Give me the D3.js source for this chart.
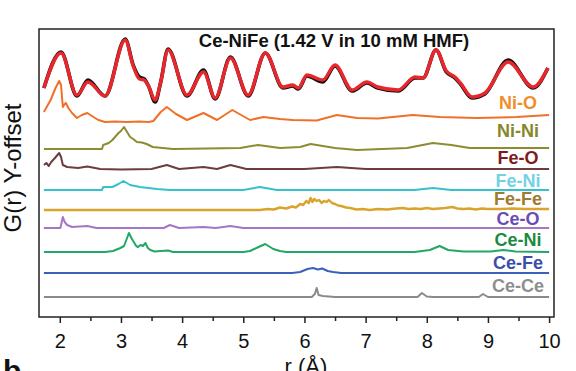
<!DOCTYPE html>
<html>
<head>
<meta charset="utf-8">
<script src="https://cdn.jsdelivr.net/npm/d3@7"></script>
<style>
  body { margin: 0; background: #fff; }
  svg { display: block; font-family: "Liberation Sans", Arial, sans-serif; }
</style>
</head>
<body>
<svg id="chart" width="576" height="371"></svg>
<script>
// r (Å) vs G(r), each curve as [r, G] pairs relative to its own offset
const xTicks = [2, 3, 4, 5, 6, 7, 8, 9, 10]
const xMinorTicks = [2.5, 3.5, 4.5, 5.5, 6.5, 7.5, 8.5, 9.5]

const totalExp = [
  [1.74, 0.2], [2.02, 3.8], [2.28, -0.6], [2.46, 1.0], [2.74, -0.6], [3.07, 5.1], [3.2, 2.5], [3.3, 1.3],
  [3.38, 1.1], [3.45, 0.4], [3.56, -1.2], [3.65, 0.8], [3.77, 4.1], [4.08, -0.6], [4.35, 2.0], [4.54, -0.9],
  [4.79, 3.3], [5.08, -0.6], [5.36, 3.7], [5.65, 0.2], [5.81, 0.4], [5.9, 0.1], [6.04, 1.4], [6.3, 0.8],
  [6.5, 2.4], [6.78, -0.1], [7.02, 0.7], [7.2, 0.2], [7.53, -0.1], [7.81, 1.2], [7.94, 1.2], [8.15, 4.0],
  [8.32, 1.8], [8.46, 1.2], [8.55, 0.6], [8.74, -0.8], [8.95, -0.4], [9.33, 3.0], [9.74, 0.2], [9.98, 2.2]
]
const totalFit = [
  [1.74, 0.2], [2.02, 3.7], [2.28, -0.5], [2.46, 0.8], [2.74, -0.6], [3.07, 5.0], [3.2, 2.4], [3.3, 1.1],
  [3.38, 1.0], [3.45, 0.4], [3.56, -1.0], [3.65, 0.8], [3.77, 4.0], [4.08, -0.5], [4.35, 1.8], [4.54, -0.8],
  [4.79, 3.2], [5.08, -0.5], [5.36, 3.7], [5.65, 0.3], [5.81, 0.5], [5.9, 0.2], [6.04, 1.5], [6.3, 1.0],
  [6.5, 2.5], [6.78, 0.0], [7.02, 0.8], [7.2, 0.3], [7.53, 0.0], [7.81, 1.3], [7.94, 1.2], [8.15, 4.0],
  [8.32, 1.9], [8.46, 1.3], [8.55, 0.7], [8.74, -0.7], [8.95, -0.3], [9.33, 2.8], [9.74, 0.3], [9.98, 2.2]
]

const niO = [
  [1.74, 0.8], [1.85, 2.0], [1.93, 3.2], [1.99, 3.9], [2.02, 3.5], [2.05, 1.3], [2.08, 1.6], [2.1, 1.7],
  [2.14, 1.2], [2.2, 0.7], [2.28, 0.2], [2.36, 0.5], [2.45, 0.7], [2.55, 0.3], [2.63, 0.0], [2.74, -0.2],
  [2.9, -0.15], [3.1, -0.2], [3.3, -0.15], [3.45, -0.2], [3.53, -0.1], [3.65, 0.8], [3.75, 1.3], [3.9, 0.6],
  [4.08, 0.0], [4.35, 0.7], [4.57, 0.0], [4.82, 1.0], [5.11, 0.0], [5.33, 0.3], [5.6, 0.1], [5.81, 0.0],
  [6.2, -0.05], [6.53, 0.5], [6.86, 0.2], [7.2, 0.15], [7.77, 0.5], [8.21, 0.3], [8.82, 0.2], [9.47, 0.3],
  [10.0, 0.5]
]
const niNi = [
  [1.74, 0], [2.69, 0], [2.71, 0.4], [2.8, 0.6], [2.86, 0.9], [2.96, 1.6], [3.0, 1.8], [3.05, 2.2],
  [3.1, 1.7], [3.15, 1.2], [3.2, 1.0], [3.26, 0.7], [3.34, 0.65], [3.42, 0.5], [3.52, 0.2], [3.85, 0],
  [4.95, 0.1], [5.24, 0.4], [5.6, 0.1], [5.93, 0.2], [6.1, 0.5], [6.5, 0.1], [6.86, -0.1], [7.68, 0.1],
  [8.1, 0.6], [8.4, 0.4], [8.7, 0.1], [10.0, 0.1]
]
const feO = [
  [1.74, 0.4], [1.78, 0.6], [1.82, 0.3], [1.86, 0.7], [1.92, 1.1], [1.99, 1.6], [2.02, 1.2], [2.05, 0.4],
  [2.12, 0.2], [2.3, 0.1], [2.45, 0.25], [2.66, 0], [3.0, -0.05], [3.5, 0], [3.75, 0.4], [3.95, 0],
  [4.35, 0.2], [4.57, 0], [4.79, 0.4], [5.05, 0], [6.0, 0], [6.53, 0.2], [7.0, 0], [10.0, 0]
]
const feNi = [
  [1.74, 0], [2.69, 0], [2.71, 0.3], [2.86, 0.3], [2.96, 0.6], [3.04, 0.9], [3.15, 0.5], [3.31, 0.3],
  [3.59, 0.1], [3.8, 0], [5.0, 0], [5.27, 0.3], [5.55, 0], [7.8, 0], [8.1, 0.2], [8.4, 0], [10.0, 0]
]
const feFe = [
  [1.74, 0], [5.27, 0], [5.4, 0.1], [5.5, 0.05], [5.6, 0.25], [5.7, 0.15], [5.8, 0.35], [5.86, 0.25],
  [5.93, 0.6], [5.98, 0.5], [6.03, 0.9], [6.07, 0.7], [6.1, 1.2], [6.13, 0.8], [6.16, 1.1], [6.2, 0.9],
  [6.24, 1.0], [6.28, 0.7], [6.32, 0.9], [6.36, 0.8], [6.4, 1.0], [6.45, 0.7], [6.5, 0.6], [6.55, 0.45],
  [6.6, 0.4], [6.68, 0.25], [6.75, 0.2], [6.85, 0.05], [6.95, 0.1], [7.07, 0.0], [7.2, 0.1], [7.35, 0.05],
  [7.5, 0.15], [7.61, 0.2], [7.7, 0.1], [7.8, 0.15], [7.9, 0.1], [8.0, 0.2], [8.1, 0.1], [8.2, 0.15],
  [8.3, 0.2], [8.42, 0.3], [8.5, 0.15], [8.6, 0.1], [8.7, 0.15], [8.8, 0.05], [8.9, 0.15], [9.0, 0.1],
  [9.2, 0.1], [9.4, 0.15], [9.6, 0.1], [9.8, 0.1], [10.0, 0.1]
]
const ceO = [
  [1.74, 0], [2.01, 0], [2.05, 1.1], [2.08, 0.6], [2.12, 0.3], [2.2, 0.1], [2.45, 0.2], [2.6, 0],
  [3.7, 0], [3.8, 0.3], [3.95, 0], [4.35, 0.1], [4.55, 0], [4.79, 0.2], [5.0, 0], [10.0, 0]
]
const ceNi = [
  [1.74, 0], [2.74, 0], [2.87, 0.1], [2.95, 0.3], [2.99, 0.4], [3.05, 0.6], [3.1, 1.4], [3.13, 1.9],
  [3.17, 1.4], [3.21, 1.0], [3.25, 0.6], [3.28, 0.5], [3.32, 0.7], [3.36, 0.6], [3.4, 0.9], [3.44, 0.4],
  [3.48, 0.2], [3.55, 0.05], [3.65, 0.1], [3.77, 0.15], [3.85, 0], [5.0, 0], [5.11, 0.1], [5.25, 0.5],
  [5.36, 0.8], [5.49, 0.3], [5.6, 0.1], [5.7, 0], [7.8, 0], [8.05, 0.2], [8.21, 0.6], [8.35, 0.2],
  [8.6, 0.05], [9.05, 0.05], [9.25, 0.2], [9.45, 0.05], [10.0, 0]
]
const ceFe = [
  [1.74, 0], [5.8, 0], [5.93, 0.1], [6.05, 0.4], [6.14, 0.5], [6.22, 0.35], [6.29, 0.45], [6.38, 0.2],
  [6.47, 0.1], [6.6, 0], [10.0, 0]
]
const ceCe = [
  [1.74, 0], [6.12, 0], [6.17, 0.3], [6.2, 0.9], [6.23, 0.2], [6.3, 0.1], [6.5, 0], [7.85, 0],
  [7.92, 0.4], [8.0, 0.05], [8.1, 0], [8.85, 0], [8.92, 0.3], [9.0, 0], [10.0, 0]
]

const totalOffset = 22.7
const partialNames = ['Ni-O', 'Ni-Ni', 'Fe-O', 'Fe-Ni', 'Fe-Fe', 'Ce-O', 'Ce-Ni', 'Ce-Fe', 'Ce-Ce']
const partialData = [niO, niNi, feO, feNi, feFe, ceO, ceNi, ceFe, ceCe]
const partialOffsets = [19.7, 16.8, 14.8, 12.7, 10.7, 8.9, 6.5, 4.4, 2.0]

// styles
const lineColors = ['#f07028', '#8c8c30', '#6e3c3e', '#34c2cc', '#d8a42c', '#a676c4', '#22a864', '#3a62b8', '#8a8a8a']
const labelColors = ['#f28e2a', '#86862a', '#7c1c1e', '#72d2e4', '#a07a2e', '#6a4cb4', '#1a8a44', '#3a4eaa', '#8e8e8e']
const labelLift = [17, 18, 11, 9, 11, 9, 12, 10, 11]

const box = { left: 39, right: 554, top: 29, bottom: 317 }

const svg = d3.select('#chart')

const x = d3.scaleLinear().domain([1.66, 10.08]).range([box.left, box.right])
const y = d3.scaleLinear().domain([0, 28.8]).range([box.bottom, box.top])

const lineFor = (offset, curve) => d3.line()
  .x(d => x(d[0]))
  .y(d => y(d[1] + offset))
  .curve(curve)

// partial curves
partialData.forEach((data, i) => {
  svg.append('path')
    .datum(data)
    .attr('d', lineFor(partialOffsets[i], d3.curveLinear))
    .attr('fill', 'none')
    .attr('stroke', lineColors[i])
    .attr('stroke-width', i === 4 ? 2.4 : 2)
    .attr('stroke-linejoin', 'round')
})

// total: experiment (black) under fit (red)
svg.append('path')
  .datum(totalExp)
  .attr('d', lineFor(totalOffset, d3.curveMonotoneX))
  .attr('fill', 'none')
  .attr('stroke', '#111')
  .attr('stroke-width', 3.6)

svg.append('path')
  .datum(totalFit)
  .attr('d', lineFor(totalOffset, d3.curveMonotoneX))
  .attr('fill', 'none')
  .attr('stroke', '#e8262b')
  .attr('stroke-width', 3.4)

// labels
svg.append('g').selectAll('text')
  .data(partialNames)
  .join('text')
  .attr('x', 518)
  .attr('y', (d, i) => y(partialOffsets[i]) - labelLift[i])
  .attr('dy', '0.36em')
  .attr('text-anchor', 'middle')
  .attr('font-size', 18)
  .attr('font-weight', 'bold')
  .attr('fill', (d, i) => labelColors[i])
  .text(d => d)

svg.append('text')
  .attr('x', 334)
  .attr('y', 47)
  .attr('text-anchor', 'middle')
  .attr('font-size', 18.5)
  .attr('font-weight', 'bold')
  .attr('fill', '#111')
  .text('Ce-NiFe (1.42 V in 10 mM HMF)')

// frame
svg.append('rect')
  .attr('x', box.left)
  .attr('y', box.top)
  .attr('width', box.right - box.left)
  .attr('height', box.bottom - box.top)
  .attr('fill', 'none')
  .attr('stroke', '#222')
  .attr('stroke-width', 1.5)

// x axis
const gx = svg.append('g')
  .attr('transform', `translate(0,${box.bottom})`)
  .call(d3.axisBottom(x).tickValues(xTicks).tickSize(6).tickPadding(11).tickFormat(d3.format('d')))
gx.select('.domain').remove()
gx.selectAll('line').attr('stroke', '#222').attr('stroke-width', 1.5)
gx.selectAll('text').attr('font-size', 20).attr('fill', '#111')
  .attr('font-family', '"Liberation Sans", Arial, sans-serif')

const gm = svg.append('g')
  .attr('transform', `translate(0,${box.bottom})`)
  .call(d3.axisBottom(x).tickValues(xMinorTicks).tickSize(4).tickFormat(''))
gm.select('.domain').remove()
gm.selectAll('line').attr('stroke', '#222').attr('stroke-width', 1.5)

svg.append('text')
  .attr('x', 306)
  .attr('y', 374)
  .attr('text-anchor', 'middle')
  .attr('font-size', 22)
  .attr('fill', '#111')
  .text('r (Å)')

svg.append('text')
  .attr('transform', 'translate(21,168) rotate(-90)')
  .attr('text-anchor', 'middle')
  .attr('font-size', 24)
  .attr('fill', '#111')
  .text('G(r) Y-offset')

svg.append('text')
  .attr('x', 3)
  .attr('y', 381)
  .attr('font-size', 30)
  .attr('font-weight', 'bold')
  .attr('fill', '#111')
  .text('b')
</script>
</body>
</html>
